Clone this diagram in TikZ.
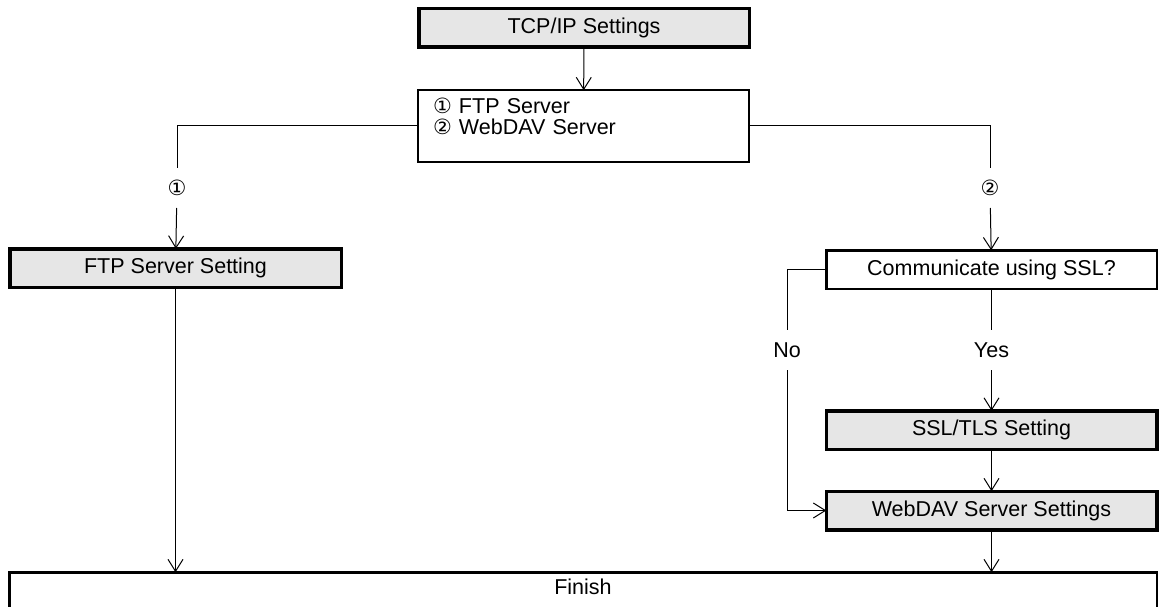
\documentclass[tikz,border=0pt]{standalone}
\usepackage{fontspec}
\setmainfont{Liberation Sans}
\newfontfamily\circfont{DejaVu Sans}
\usetikzlibrary{arrows.meta}
\definecolor{boxgray}{RGB}{230,230,230}

\begin{document}
\begin{tikzpicture}[x=1pt,y=-1pt,>={Straight Barb[length=12pt,width=15pt]},
	font=\fontsize{21.5}{21}\selectfont,
	setbox/.style={draw,line width=3.5pt,fill=boxgray,minimum width=330.5pt,minimum height=38.5pt,inner sep=0pt,outer sep=0pt},
	askbox/.style={draw,line width=2.5pt,fill=white,minimum width=330.5pt,minimum height=38.5pt,inner sep=0pt,outer sep=0pt},
	lbl/.style={minimum height=40pt,inner xsep=2pt,inner ysep=0pt,outer sep=0pt},
	flow/.style={->,line width=1pt}]
	\useasboundingbox (0,0) rectangle (1159,607);
	\node[setbox] (tcp) at (584,28) {TCP/IP Settings};
	\node[askbox,minimum height=71.5pt,text width=301pt,align=left,inner xsep=15pt] (menu) at (583.5,126)
		{{\circfont\fontsize{21}{21}\selectfont ①} FTP Server\\{\circfont\fontsize{21}{21}\selectfont ②} WebDAV Server\\[-2pt]\mbox{}};
	\node[setbox,minimum width=331.5pt] (ftp) at (175.5,268) {FTP Server Setting};
	\node[askbox] (comm) at (991.5,269.5) {Communicate using SSL?};
	\node[setbox] (tls) at (991.5,430) {SSL/TLS Setting};
	\node[setbox] (webdav) at (991.5,510.5) {WebDAV Server Settings};
	\node[askbox,anchor=north,minimum width=1147.5pt,minimum height=45pt,text depth=16pt] (finish) at (583,572.25) {Finish};
	\node[lbl,font=\circfont\fontsize{21}{21}\selectfont] (one) at (177,188) {①};
	\node[lbl,font=\circfont\fontsize{21}{21}\selectfont] (two) at (990,188) {②};
	\node[lbl] (no) at (787,350) {No};
	\node[lbl] (yes) at (991.5,350) {Yes};
	\draw[flow] (tcp) -- (menu);
	\draw[line width=1pt] (menu.west) -| (one);
	\draw[flow] (one) -- (ftp);
	\draw[line width=1pt] (menu.east) -| (two);
	\draw[flow] (two) -- (comm);
	\draw[line width=1pt] (comm.west) -| (no);
	\draw[flow] (no) |- (webdav.west);
	\draw[line width=1pt] (comm) -- (yes);
	\draw[flow] (yes) -- (tls);
	\draw[flow] (tls) -- (webdav);
	\draw[flow] (webdav) -- (webdav |- finish.north);
	\draw[flow] (ftp) -- (ftp |- finish.north);
\end{tikzpicture}
\end{document}
